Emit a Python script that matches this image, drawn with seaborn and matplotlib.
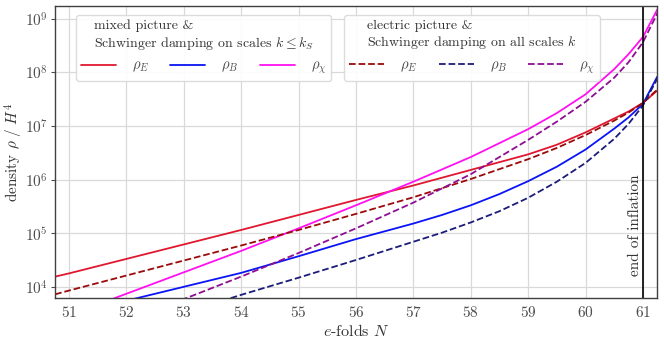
import numpy as np
import pandas as pd
import seaborn as sns
import matplotlib
matplotlib.use("Agg")
import matplotlib.pyplot as plt

# e-folds at which the curves were read, and log10 of the energy densities
N_mixed_E = [50.76, 51, 52, 53, 54, 55, 56, 57, 58, 59, 59.5, 60, 60.5, 60.75, 61, 61.25]
logrho_E_mixed = [4.19, 4.25, 4.52, 4.79, 5.06, 5.34, 5.62, 5.89, 6.18, 6.47, 6.65, 6.88, 7.14, 7.27, 7.43, 7.66]

N_mixed_B = [52, 53, 54, 55, 56, 57, 57.5, 58, 58.5, 59, 59.5, 60, 60.5, 60.75, 61, 61.25]
logrho_B_mixed = [3.74, 4.00, 4.26, 4.57, 4.89, 5.18, 5.34, 5.52, 5.73, 5.97, 6.24, 6.56, 6.95, 7.16, 7.41, 7.92]

N_mixed_X = [51.5, 52, 53, 54, 55, 56, 57, 58, 59, 59.5, 60, 60.5, 60.75, 61, 61.25]
logrho_X_mixed = [3.67, 3.87, 4.27, 4.67, 5.09, 5.52, 5.96, 6.42, 6.94, 7.24, 7.59, 8.06, 8.34, 8.66, 9.17]

N_el_E = [50.76, 51, 52, 53, 54, 55, 56, 57, 58, 59, 59.5, 60, 60.5, 60.75, 61, 61.25]
logrho_E_el = [3.86, 3.93, 4.21, 4.49, 4.77, 5.06, 5.36, 5.67, 6.01, 6.38, 6.59, 6.83, 7.10, 7.25, 7.43, 7.68]

N_el_B = [53.5, 54, 55, 56, 57, 57.5, 58, 58.5, 59, 59.5, 60, 60.5, 60.75, 61, 61.25]
logrho_B_el = [3.68, 3.85, 4.17, 4.50, 4.84, 5.01, 5.20, 5.41, 5.66, 5.96, 6.31, 6.76, 7.04, 7.38, 7.88]

N_el_X = [52.8, 53, 54, 55, 56, 57, 58, 59, 59.5, 60, 60.5, 60.75, 61, 61.25]
logrho_X_el = [3.68, 3.77, 4.19, 4.63, 5.09, 5.57, 6.10, 6.74, 7.08, 7.45, 7.90, 8.19, 8.56, 9.10]

N_end = 61.0

sns.set_theme(style="whitegrid")
plt.rcParams["font.family"] = ["cmr10", "DejaVu Serif"]
plt.rcParams["mathtext.fontset"] = "cm"
plt.rcParams["axes.formatter.use_mathtext"] = True

fig, ax = plt.subplots(figsize=(6.64, 3.45), dpi=100)
fig.subplots_adjust(left=0.083, right=0.989, top=0.983, bottom=0.136)

series = [
    (N_mixed_E, logrho_E_mixed, "#e0182f", "-", r"$\rho_E$"),
    (N_mixed_B, logrho_B_mixed, "#0a14f5", "-", r"$\rho_B$"),
    (N_mixed_X, logrho_X_mixed, "#ff10f0", "-", r"$\rho_\chi$"),
    (N_el_E, logrho_E_el, "#9b0a0a", "--", r"$\rho_E$"),
    (N_el_B, logrho_B_el, "#1c1c7a", "--", r"$\rho_B$"),
    (N_el_X, logrho_X_el, "#8e0e92", "--", r"$\rho_\chi$"),
]

handles = []
for n, lr, col, ls, lab in series:
    df = pd.DataFrame({"N": n, "rho": 10 ** np.array(lr)})
    sns.lineplot(data=df, x="N", y="rho", ax=ax, color=col, linestyle=ls, lw=1.3)
    handles.append(ax.lines[-1])

ax.axvline(N_end, color="black", lw=1.2)
ax.text(N_end - 0.13, 10 ** 4.2, "end of inflation", rotation=90, ha="center",
        va="bottom", fontsize=11, color="0.2")

ax.set_yscale("log")
ax.set_xlim(50.76, 61.24)
ax.set_ylim(10 ** 3.79, 10 ** 9.24)
ax.set_xticks(range(51, 62))
ax.set_yticks([10 ** k for k in range(4, 10)])
ax.minorticks_off()
ax.tick_params(axis="both", labelsize=11, colors="0.3", length=3, width=0.8, pad=2)
ax.tick_params(axis="y", left=True)
ax.set_xlabel(r"$e$-folds $N$", fontsize=11.5, color="0.2", labelpad=2)
ax.set_ylabel(r"density $\rho\ /\ H^4$", fontsize=11, color="0.2", labelpad=0)
ax.grid(True, color="0.85", lw=0.9)
for s in ax.spines.values():
    s.set_color("0.25")
    s.set_linewidth(1.0)

leg_kw = dict(ncol=3, fontsize=10.5, title_fontsize=10, handlelength=2.4,
              handletextpad=1.1, columnspacing=1.45, frameon=True, framealpha=0.9,
              edgecolor="0.85", borderpad=0.35, labelcolor="0.3")
leg1 = ax.legend(handles[:3], [s[4] for s in series[:3]],
                 title="mixed picture &\nSchwinger damping on scales $k \\leq k_S$",
                 loc="upper left", bbox_to_anchor=(0.022, 0.995), **leg_kw)
leg1.get_title().set_multialignment("left")
leg1.get_title().set_color("0.2")
ax.add_artist(leg1)
leg2 = ax.legend(handles[3:], [s[4] for s in series[3:]],
                 title="electric picture &\nSchwinger damping on all scales $k$",
                 loc="upper left", bbox_to_anchor=(0.468, 0.995), **leg_kw)
leg2.get_title().set_multialignment("left")
leg2.get_title().set_color("0.2")

fig.savefig("out.png", dpi=100)
